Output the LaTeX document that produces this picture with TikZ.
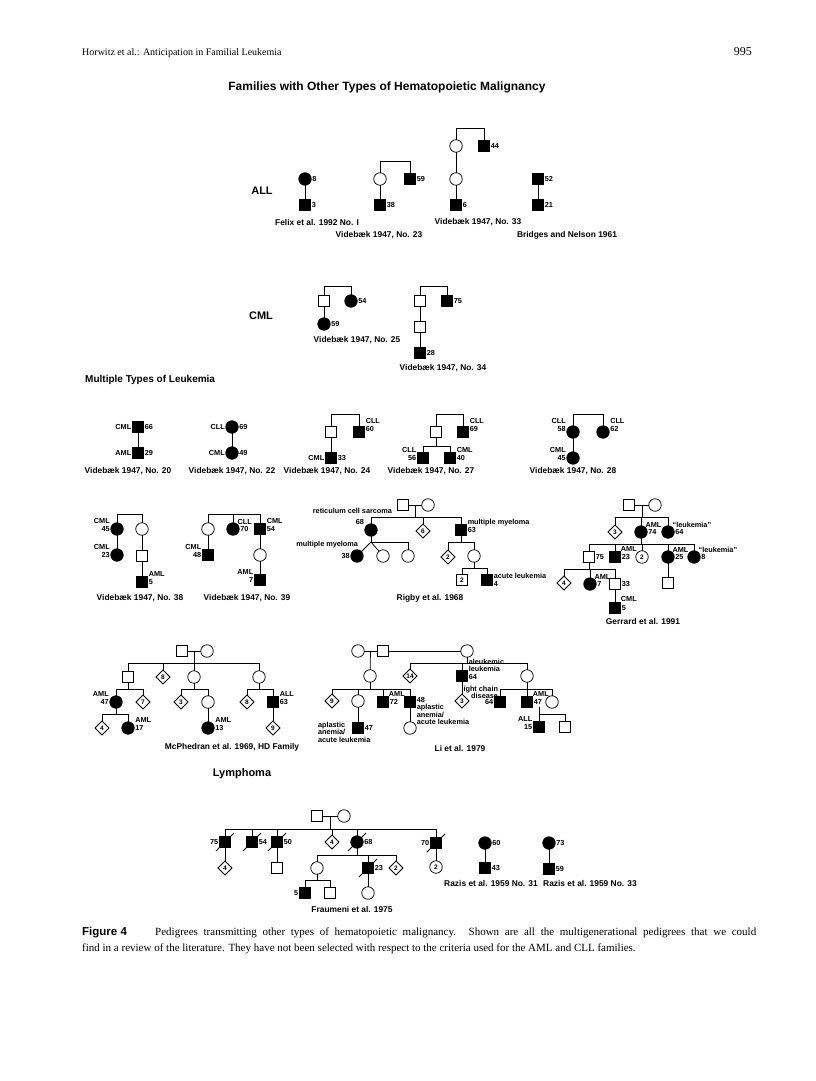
\documentclass[tikz,border=0pt]{standalone}
\usepackage{fontspec}
\setmainfont{Liberation Serif}
\newfontfamily\hv{Liberation Sans}
\usetikzlibrary{shapes.geometric,calc}
\newcommand\topjoin[3]{\draw[ln] (#1.north) -- (#1.north |- #3) -- (#2.north |- #3) -- (#2.north);}
\newcommand\kids[2]{\foreach \kk in {#2} {\draw[ln] (\kk.north) -- (\kk.north |- #1);}}
\newcommand\sibbar[3]{\draw[ln] (#2.north |- #1) -- (#3.north |- #1);}
\newcommand\drop[2]{\draw[ln] (#1) -- (#1 |- #2);}
\tikzset{
 ln/.style={line width=0.75pt},
 sym/.style={draw, line width=0.75pt, inner sep=0pt, outer sep=0pt, font=\hv\bfseries\fontsize{6.5}{6.5}\selectfont},
 osq/.style={sym, rectangle, minimum size=11.5pt, fill=white},
 fsq/.style={osq, fill=black},
 oc/.style={sym, circle, minimum size=12.5pt, fill=white},
 fc/.style={oc, fill=black},
 dia/.style={sym, diamond, minimum size=14pt, fill=white},
 lab/.style={font=\hv\bfseries\fontsize{7.3}{7.4}\selectfont, inner sep=0.8pt},
 capt/.style={font=\hv\bfseries\fontsize{8.4}{9}\selectfont, inner sep=0pt},
 secn/.style={font=\hv\bfseries\fontsize{11}{12}\selectfont, inner sep=0pt},
 R/.style={label={[lab]right:#1}},
 L/.style={label={[lab]left:#1}},
 RR/.style={label={[lab,align=left,yshift=4pt]right:#1}},
 LL/.style={label={[lab,align=right,yshift=4pt]left:#1}},
 RRu/.style={label={[lab,align=left,yshift=7pt]right:#1}},
 LLu/.style={label={[lab,align=right,yshift=7pt]left:#1}},
 T/.style={label={[lab,anchor=south west,inner sep=0pt]north east:#1}},
}
\begin{document}
\begin{tikzpicture}[x=1pt,y=-1pt]
\useasboundingbox (0,0) rectangle (816,1081);
\fill[white] (0,0) rectangle (816,1081);
% header
\node[font=\fontsize{10}{12}\selectfont, anchor=base west, inner sep=0] (hdr) at (82,56) {Horwitz et al.: Anticipation in Familial Leukemia};
\node[font=\fontsize{12}{14}\selectfont, anchor=base east, inner sep=0] (pg) at (752,56) {995};
\node[font=\hv\bfseries\fontsize{12}{14}\selectfont, inner sep=0] (title) at (387,87) {Families with Other Types of Hematopoietic Malignancy};
% ALL
\node[secn] (sALL) at (262,191) {ALL};
\node[fc,R=8] (fa1) at (305,179) {};
\node[fsq,R=3] (fa2) at (305,205) {};
\draw[ln] (fa1) -- (fa2);
\node[capt] (cfa) at (317,222) {Felix et al. 1992 No. I};
\node[oc] (va1) at (380,179) {};
\node[fsq,R=59] (va2) at (410,179) {};
\coordinate (ya1) at (0,161);
\topjoin{va1}{va2}{ya1}
\node[fsq,R=38] (va3) at (380,205) {};
\draw[ln] (va1) -- (va3);
\node[capt] (cva) at (379,235) {Videbæk 1947, No. 23};
\node[oc] (vb1) at (456,146) {};
\node[fsq,R=44] (vb2) at (484,146) {};
\coordinate (yb1) at (0,128);
\topjoin{vb1}{vb2}{yb1}
\node[oc] (vb3) at (456,179) {};
\node[fsq,R=6] (vb4) at (456,205) {};
\draw[ln] (vb1) -- (vb3); \draw[ln] (vb3) -- (vb4);
\node[capt] (cvb) at (478,222) {Videbæk 1947, No. 33};
\node[fsq,R=52] (bn1) at (538,179) {};
\node[fsq,R=21] (bn2) at (538,205) {};
\draw[ln] (bn1) -- (bn2);
\node[capt] (cbn) at (567,235) {Bridges and Nelson 1961};
% CML
\node[secn] (sCML) at (261,316) {CML};
\node[osq] (vc1) at (324,301) {};
\node[fc,R=54] (vc2) at (351,301) {};
\coordinate (yc1) at (0,286);
\topjoin{vc1}{vc2}{yc1}
\node[fc,R=59] (vc3) at (324,324) {};
\draw[ln] (vc1) -- (vc3);
\node[capt] (cvc) at (357,340) {Videbæk 1947, No. 25};
\node[osq] (vd1) at (420,301) {};
\node[fsq,R=75] (vd2) at (447,301) {};
\topjoin{vd1}{vd2}{yc1}
\node[osq] (vd3) at (420,327) {};
\node[fsq,R=28] (vd4) at (420,353) {};
\draw[ln] (vd1) -- (vd3); \draw[ln] (vd3) -- (vd4);
\node[capt] (cvd) at (443,368) {Videbæk 1947, No. 34};
% Multiple types
\node[secn, font=\hv\bfseries\fontsize{10}{12}\selectfont, anchor=west] (sMT) at (85,380) {Multiple Types of Leukemia};
\node[fsq,L=CML,R=66] (m20a) at (138,427) {};
\node[fsq,L=AML,R=29] (m20b) at (138,453) {};
\draw[ln] (m20a)--(m20b);
\node[capt] (c20) at (128,471) {Videbæk 1947, No. 20};
\node[fc,L=CLL,R=69] (m22a) at (232,427) {};
\node[fc,L=CML,R=49] (m22b) at (232,453) {};
\draw[ln] (m22a)--(m22b);
\node[capt] (c22) at (232,471) {Videbæk 1947, No. 22};
\node[osq] (m24a) at (331,432) {};
\node[fsq,RRu={CLL\\60}] (m24b) at (359,432) {};
\coordinate (y24) at (0,414);
\topjoin{m24a}{m24b}{y24}
\node[fsq,L=CML,R=33] (m24c) at (331,458) {};
\draw[ln] (m24a)--(m24c);
\node[capt] (c24) at (327,471) {Videbæk 1947, No. 24};
\node[osq] (m27a) at (436,432) {};
\node[fsq,RRu={CLL\\69}] (m27b) at (463,432) {};
\topjoin{m27a}{m27b}{y24}
\node[fsq,LL={CLL\\56}] (m27c) at (423,458) {};
\node[fsq,RR={CML\\40}] (m27d) at (450,458) {};
\coordinate (y27) at (0,446);
\drop{m27a.south}{y27}
\sibbar{y27}{m27c}{m27d}
\kids{y27}{m27c,m27d}
\node[capt] (c27) at (431,471) {Videbæk 1947, No. 27};
\node[fc,LLu={CLL\\58}] (m28a) at (573,432) {};
\node[fc,RRu={CLL\\62}] (m28b) at (603,432) {};
\topjoin{m28a}{m28b}{y24}
\node[fc,LL={CML\\45}] (m28c) at (573,458) {};
\draw[ln] (m28a)--(m28c);
\node[capt] (c28) at (573,471) {Videbæk 1947, No. 28};
% No. 38
\node[fc,LL={CML\\45}] (n38a) at (117,529) {};
\node[oc] (n38b) at (142,529) {};
\coordinate (y38) at (0,514);
\topjoin{n38a}{n38b}{y38}
\node[fc,LL={CML\\23}] (n38c) at (117,555) {};
\node[osq] (n38d) at (142,556) {};
\node[fsq,RR={AML\\5}] (n38e) at (142,582) {};
\draw[ln] (n38a)--(n38c); \draw[ln] (n38b)--(n38d); \draw[ln] (n38d)--(n38e);
\node[capt] (c38) at (140,598) {Videbæk 1947, No. 38};
% No. 39
\node[oc] (n39a) at (208,529) {};
\node[fc,T=CLL,R=70] (n39b) at (233,529) {};
\node[fsq,RR={CML\\54}] (n39c) at (260,529) {};
\topjoin{n39a}{n39c}{y38}
\drop{n39b.north}{y38}
\node[fsq,LL={CML\\48}] (n39d) at (208,555) {};
\node[oc] (n39e) at (260,555) {};
\node[fsq,LL={AML\\7}] (n39f) at (260,580) {};
\draw[ln] (n39a)--(n39d); \draw[ln] (n39c)--(n39e); \draw[ln] (n39e)--(n39f);
\node[capt] (c39) at (247,598) {Videbæk 1947, No. 39};
% Rigby
\node[osq] (ra) at (403,505) {};
\node[oc] (rb) at (428,505) {};
\draw[ln] (ra)--(rb);
\coordinate (rp) at ($(ra)!0.5!(rb)$);
\coordinate (yr1) at (0,517);
\node[fc] (r68) at (371,530) {};
\node[dia] (r6) at (423,531) {6};
\node[fsq,RR={multiple myeloma\\63}] (r63) at (461,530) {};
\drop{rp}{yr1}
\sibbar{yr1}{r68}{r63}
\kids{yr1}{r68,r6,r63}
\node[lab,anchor=east] (rt1) at (393,511) {reticulum cell sarcoma};
\node[lab,anchor=east] (rt2) at (365,522) {68};
\coordinate (rbr) at (371,542);
\node[fc,L=38] (r38) at (357,556) {};
\node[oc] (rc1) at (383,556) {};
\node[oc] (rc2) at (408,556) {};
\draw[ln] (r68) -- (rbr);
\draw[ln] (rbr) -- (r38);
\draw[ln] (rbr) -- (rc1);
\draw[ln] (rbr) -- (rbr -| rc2) -- (rc2.north);
\node[lab,anchor=east] (rt3) at (359,545) {multiple myeloma};
\coordinate (yr2) at (0,542);
\node[dia] (r2) at (448,557) {2};
\node[oc] (r74) at (474,556) {};
\drop{r63.south}{yr2}
\sibbar{yr2}{r2}{r74}
\kids{yr2}{r2,r74}
\coordinate (yr3) at (0,568);
\node[osq] (rs2) at (462,580) {2};
\node[fsq,label={[lab,align=left]right:acute leukemia\\4}] (r4) at (487,580) {};
\drop{r74.south}{yr3}
\sibbar{yr3}{rs2}{r4}
\kids{yr3}{rs2,r4}
\node[capt] (crg) at (430,598) {Rigby et al. 1968};
% Gerrard
\node[osq] (ga) at (629,505) {};
\node[oc] (gb) at (655,505) {};
\draw[ln] (ga)--(gb);
\coordinate (gp) at ($(ga)!0.5!(gb)$);
\coordinate (yg1) at (0,517);
\node[dia] (g3) at (615,532) {3};
\node[fc,T=AML,R=74] (g74) at (641,532) {};
\node[fc,T=“leukemia”,R=64] (g64) at (668,532) {};
\drop{gp}{yg1}
\sibbar{yg1}{g3}{g64}
\kids{yg1}{g3,g74,g64}
\coordinate (yg2) at (0,544);
\node[osq,R=75] (g75) at (589,557) {};
\node[fsq,T=AML,R=23] (g23) at (615,557) {};
\node[oc] (g2) at (642,557) {2};
\node[fc,T=AML,R=25] (g25) at (668,557) {};
\node[fc,T=“leukemia”,R=8] (g8) at (694,557) {};
\drop{g74.south}{yg2}
\sibbar{yg2}{g75}{g8}
\kids{yg2}{g75,g23,g2,g25,g8}
\coordinate (yg3) at (0,569);
\node[dia] (g4) at (564,583) {4};
\node[fc,T=AML,R=7] (g7) at (590,584) {};
\node[osq,R=33] (g33) at (615,584) {};
\drop{g75.south}{yg3}
\sibbar{yg3}{g4}{g33}
\kids{yg3}{g4,g7,g33}
\node[fsq,T=CML,R=5] (g5) at (615,608) {};
\draw[ln] (g33)--(g5);
\node[osq] (gs) at (668,583) {};
\draw[ln] (g25)--(gs);
\node[capt] (cg) at (643,621) {Gerrard et al. 1991};
% McPhedran
\node[osq] (pa) at (182,651) {};
\node[oc] (pb) at (207,651) {};
\draw[ln] (pa)--(pb);
\coordinate (pp) at ($(pa)!0.5!(pb)$);
\coordinate (yp1) at (0,663);
\node[osq] (p1) at (128,677) {};
\node[dia] (p8) at (163,677) {8};
\node[oc] (p2) at (194,677) {};
\node[oc] (p3) at (259,677) {};
\drop{pp}{yp1}
\sibbar{yp1}{p1}{p3}
\kids{yp1}{p1,p8,p2,p3}
\coordinate (yp2) at (0,689);
\node[fc,LL={AML\\47}] (p47) at (116,702) {};
\node[dia] (p7) at (143,702) {7};
\drop{p1.south}{yp2}
\sibbar{yp2}{p47}{p7}
\kids{yp2}{p47,p7}
\coordinate (yp3) at (0,714);
\node[dia] (p4) at (102,728) {4};
\node[fc,RR={AML\\17}] (p17) at (128,728) {};
\drop{p47.south}{yp3}
\sibbar{yp3}{p4}{p17}
\kids{yp3}{p4,p17}
\node[dia] (p3d) at (181,702) {3};
\node[oc] (p5) at (208,702) {};
\drop{p2.south}{yp2}
\sibbar{yp2}{p3d}{p5}
\kids{yp2}{p3d,p5}
\node[fc,RR={AML\\13}] (p13) at (208,728) {};
\draw[ln] (p5)--(p13);
\node[dia] (p8b) at (247,702) {8};
\node[fsq,RR={ALL\\63}] (p63) at (273,702) {};
\drop{p3.south}{yp2}
\sibbar{yp2}{p8b}{p63}
\kids{yp2}{p8b,p63}
\node[dia] (p9) at (273,728) {9};
\draw[ln] (p63)--(p9);
\node[capt] (cp) at (232,747) {McPhedran et al. 1969, HD Family};
% Li
\node[oc] (la) at (358,651) {};
\node[osq] (lb) at (383,651) {};
\node[oc] (lc) at (467,651) {};
\draw[ln] (la)--(lb); \draw[ln] (lb)--(lc);
\coordinate (lp) at ($(la)!0.5!(lb)$);
\node[oc] (l1) at (370,676) {};
\draw[ln] (lp) -- (l1);
\coordinate (yl1) at (0,663);
\node[dia] (l14) at (410,676) {14};
\node[fsq,label={[lab,align=left,yshift=7pt]right:aleukemic\\leukemia\\64}] (l64) at (462,676) {};
\node[oc] (l2) at (527,676) {};
\drop{lc.south}{yl1}
\sibbar{yl1}{l14}{l2}
\kids{yl1}{l14,l64,l2}
\coordinate (yl2) at (0,689);
\node[dia] (l9) at (332,701) {9};
\node[oc] (l3) at (358,701) {};
\node[fsq,T=AML,R=72] (l72) at (383,702) {};
\node[fsq,label={[lab,align=left,anchor=north west]north east:48\\aplastic\\anemia/\\acute leukemia}] (l48) at (410,702) {};
\drop{l1.south}{yl2}
\sibbar{yl2}{l9}{l48}
\kids{yl2}{l9,l3,l72,l48}
\node[fsq,R=47] (l47) at (358,728) {};
\draw[ln] (l3)--(l47);
\node[lab,align=left,anchor=north west] (l47t) at (317,721) {aplastic\\anemia/\\acute leukemia};
\node[oc] (l4) at (410,728) {};
\draw[ln] (l48)--(l4);
\node[dia] (l3d) at (462,701) {3};
\draw[ln] (l64)--(l3d);
\node[fsq,L=64] (l64b) at (500,702) {};
\node[fsq,T=AML,R=47] (l47b) at (527,702) {};
\node[oc] (l5) at (552,702) {};
\drop{l2.south}{yl2}
\sibbar{yl2}{l64b}{l5}
\kids{yl2}{l64b,l47b,l5}
\node[lab,align=right,anchor=south east] (llc) at (499,700) {light chain\\disease};
\coordinate (lq) at (539.5,707);
\coordinate (yl3) at (0,714);
\node[fsq,LL={ALL\\15}] (l15) at (539,727) {};
\node[osq] (l6) at (565,727) {};
\drop{lq}{yl3}
\sibbar{yl3}{l15}{l6}
\kids{yl3}{l15,l6}
\node[capt] (cl) at (460,748) {Li et al. 1979};
% Lymphoma
\node[secn] (sLy) at (242,774) {Lymphoma};
\node[osq] (fa) at (317,816) {};
\node[oc] (fb) at (344,816) {};
\draw[ln] (fa)--(fb);
\coordinate (fp) at ($(fa)!0.5!(fb)$);
\coordinate (yf1) at (0,829);
\node[fsq,L=75] (f1) at (225,842) {};
\node[fsq,R=54] (f2) at (252,842) {};
\node[fsq,R=50] (f3) at (277,842) {};
\node[dia] (f4) at (332,842) {4};
\node[fc,R=68] (f5) at (357,842) {};
\node[fsq,L=70] (f6) at (436,843) {};
\drop{fp}{yf1}
\sibbar{yf1}{f1}{f6}
\kids{yf1}{f1,f2,f3,f4,f5,f6}
\node[dia] (f7) at (225,868) {4};
\draw[ln] (f1)--(f7);
\node[osq] (f8) at (277,868) {};
\draw[ln] (f3)--(f8);
\node[oc] (f9) at (436,867) {2};
\draw[ln] (f6)--(f9);
\coordinate (yf2) at (0,855);
\node[oc] (f10) at (317,868) {};
\node[fsq,R=23] (f11) at (368,868) {};
\node[dia] (f12) at (396,868) {2};
\drop{f5.south}{yf2}
\sibbar{yf2}{f10}{f12}
\kids{yf2}{f10,f11,f12}
\coordinate (yf3) at (0,880);
\node[fsq,L=5] (f13) at (305,893) {};
\node[osq] (f14) at (330,893) {};
\drop{f10.south}{yf3}
\sibbar{yf3}{f13}{f14}
\kids{yf3}{f13,f14}
\node[oc] (f15) at (368,893) {};
\draw[ln] (f11)--(f15);
\node[capt] (cf) at (352,909) {Fraumeni et al. 1975};
\foreach \kk in {f1,f2,f3,f5,f6,f11} {\draw[ln] ($(\kk)+(-9,9)$) -- ($(\kk)+(9,-9)$);}
% Razis
\node[fc,R=60] (za) at (485,843) {};
\node[fsq,R=43] (zb) at (485,868) {};
\draw[ln] (za)--(zb);
\node[capt] (cz1) at (491,883) {Razis et al. 1959 No. 31};
\node[fc,R=73] (zc) at (549,843) {};
\node[fsq,R=59] (zd) at (549,869) {};
\draw[ln] (zc)--(zd);
\node[capt,anchor=west] (cz2) at (543,883) {Razis et al. 1959 No. 33};
% caption
\node[font=\hv\bfseries\fontsize{11.5}{13}\selectfont, anchor=base west, inner sep=0] (fig) at (82,935) {Figure 4};
\node[font=\fontsize{11}{13}\selectfont, anchor=base west, inner sep=0] (cap1) at (155,935) {\makebox[601pt][s]{Pedigrees transmitting other types of hematopoietic malignancy. Shown are all the multigenerational pedigrees that we could}};
\node[font=\fontsize{11}{13}\selectfont, anchor=base west, inner sep=0] (cap2) at (82,951) {find in a review of the literature. They have not been selected with respect to the criteria used for the AML and CLL families.};
\end{tikzpicture}
\end{document}
